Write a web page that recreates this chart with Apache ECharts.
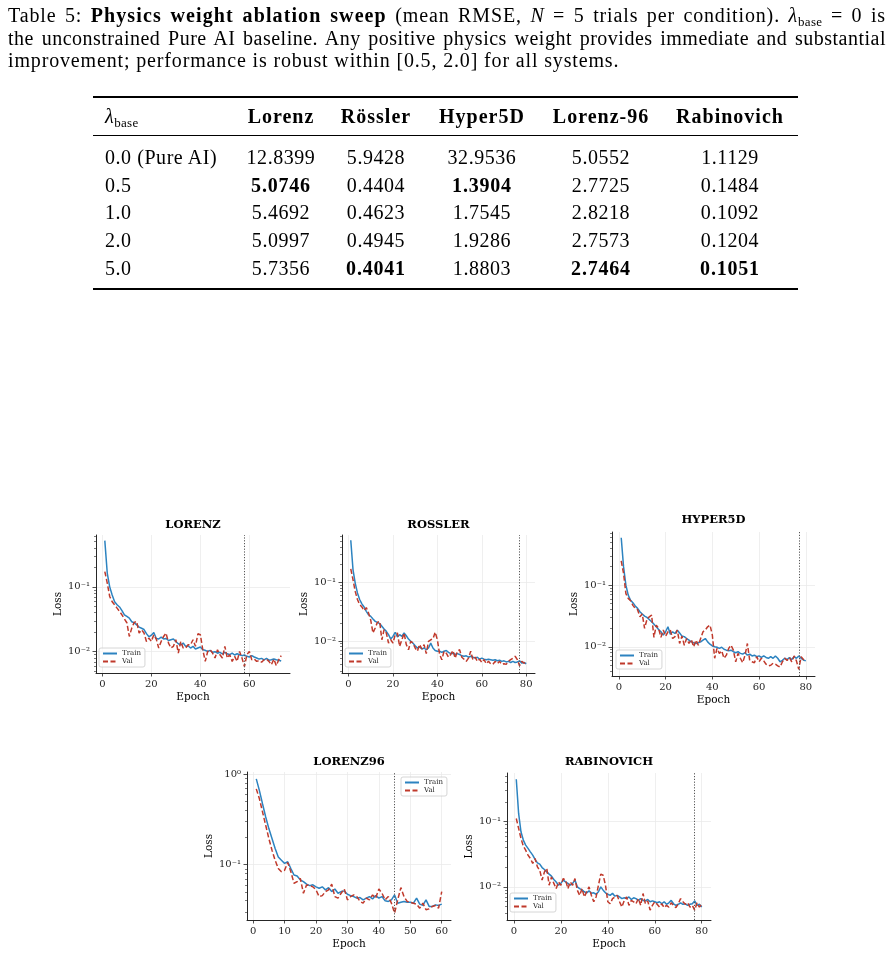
<!DOCTYPE html>
<html>
<head>
<meta charset="utf-8">
<script src="https://cdn.jsdelivr.net/npm/echarts@6/dist/echarts.min.js"></script>
<style>
  body { margin: 0; background: #fff; }
  #chart { position: absolute; left: 0; top: 0; width: 891px; height: 958px; }
  .txt { position: absolute; font-family: 'Liberation Serif', serif; color: #000; white-space: nowrap; }
  .cap { left: 8px; width: 878px; font-size: 20px; line-height: 22px; letter-spacing: 0.85px; }
  .just { white-space: normal; text-align: justify; text-align-last: justify; }
  .cap b { letter-spacing: 1.1px; }
  sub { font-size: 13px; line-height: 0; vertical-align: -4px; letter-spacing: 0.3px; }
  .rule { position: absolute; left: 93px; width: 705px; background: #000; }
  .cell { font-size: 20px; line-height: 24px; text-align: center; width: 130px; letter-spacing: 0.55px; }
  .cell b { letter-spacing: 0.8px; }
  .head b { letter-spacing: 1px; }
</style>
</head>
<body>
<div id="chart"></div>
<div class="txt cap just" style="top:4px">Table 5: <b>Physics weight ablation sweep</b> (mean RMSE, <i>N</i> = 5 trials per condition). <i>λ</i><sub>base</sub> = 0 is</div>
<div class="txt cap just" style="top:27px;letter-spacing:0.5px">the unconstrained Pure AI baseline. Any positive physics weight provides immediate and substantial</div>
<div class="txt cap" style="top:49px">improvement; performance is robust within [0.5, 2.0] for all systems.</div>
<div class="rule" style="top:96px;height:1.5px"></div>
<div class="rule" style="top:135px;height:1px"></div>
<div class="rule" style="top:288px;height:1.5px"></div>
<div id="table"></div>
<script>
// ---- table data ----
const SYSTEMS = ['Lorenz', 'Rössler', 'Hyper5D', 'Lorenz-96', 'Rabinovich'];
const LAMBDAS = ['0.0 (Pure AI)', '0.5', '1.0', '2.0', '5.0'];
const RMSE_LORENZ = [12.8399, 5.0746, 5.4692, 5.0997, 5.7356];
const RMSE_ROSSLER = [5.9428, 0.4404, 0.4623, 0.4945, 0.4041];
const RMSE_HYPER5D = [32.9536, 1.3904, 1.7545, 1.9286, 1.8803];
const RMSE_LORENZ96 = [5.0552, 2.7725, 2.8218, 2.7573, 2.7464];
const RMSE_RABINOVICH = [1.1129, 0.1484, 0.1092, 0.1204, 0.1051];

// ---- loss curves (epochs start at 1) ----
const LORENZ_TRAIN = [0.516, 0.162, 0.100, 0.075, 0.059, 0.053, 0.049, 0.043, 0.037, 0.035,
  0.033, 0.029, 0.028, 0.026, 0.024, 0.023, 0.022, 0.019, 0.017, 0.018,
  0.0198, 0.016, 0.0157, 0.0168, 0.0157, 0.016, 0.0149, 0.0153, 0.0157, 0.0144,
  0.0133, 0.0128, 0.0136, 0.0121, 0.0124, 0.0114, 0.0121, 0.011, 0.0114, 0.0118,
  0.0107, 0.0105, 0.0101, 0.0105, 0.0098, 0.0100, 0.0095, 0.0098, 0.0093, 0.0098,
  0.0093, 0.0090, 0.0095, 0.0089, 0.0093, 0.0090, 0.0087, 0.0089, 0.0085, 0.0083,
  0.0087, 0.0083, 0.0080, 0.0077, 0.0079, 0.0075, 0.0079, 0.0074, 0.0075, 0.0077,
  0.0075, 0.0074, 0.0072];
const LORENZ_VAL = [0.172, 0.114, 0.071, 0.059, 0.053, 0.047, 0.042, 0.037, 0.032, 0.028,
  0.0172, 0.0231, 0.0283, 0.0293, 0.0194, 0.0218, 0.0194, 0.0144, 0.0162, 0.0144,
  0.0183, 0.0157, 0.0114, 0.0144, 0.0172, 0.0194, 0.0136, 0.0114, 0.0121, 0.0153,
  0.0095, 0.0144, 0.0114, 0.0114, 0.0128, 0.0128, 0.0153, 0.0121, 0.0189, 0.0183,
  0.0107, 0.0071, 0.0101, 0.0107, 0.0095, 0.0080, 0.0107, 0.0090, 0.0080, 0.0121,
  0.0080, 0.0090, 0.0071, 0.0085, 0.0071, 0.0101, 0.0080, 0.0059, 0.0090, 0.0101,
  0.0075, 0.0077, 0.0071, 0.0073, 0.0069, 0.0075, 0.0077, 0.0071, 0.0063, 0.0077,
  0.0061, 0.0075, 0.0087];
const ROSSLER_TRAIN = [0.52, 0.165, 0.097, 0.066, 0.051, 0.043, 0.038, 0.032, 0.028, 0.0263,
  0.0237, 0.0216, 0.0208, 0.0198, 0.0178, 0.016, 0.0146, 0.0128, 0.0108, 0.012,
  0.0141, 0.0117, 0.0128, 0.012, 0.0137, 0.0123, 0.0108, 0.0099, 0.0092, 0.0083,
  0.0076, 0.0079, 0.0073, 0.0076, 0.0071, 0.0076, 0.0092, 0.0076, 0.0069, 0.0067,
  0.0067, 0.0064, 0.0067, 0.0069, 0.0064, 0.0061, 0.0062, 0.0059, 0.0061, 0.0059,
  0.0056, 0.0055, 0.0056, 0.0053, 0.0055, 0.0053, 0.0051, 0.0053, 0.0049, 0.0051,
  0.0049, 0.0048, 0.0049, 0.0048, 0.0047, 0.0048, 0.0046, 0.0047, 0.0045, 0.0046,
  0.0044, 0.0045, 0.0043, 0.0045, 0.0043, 0.0044, 0.0046, 0.0042, 0.0043, 0.0041];
const ROSSLER_VAL = [0.169, 0.111, 0.070, 0.051, 0.042, 0.038, 0.033, 0.037, 0.030, 0.0225,
  0.0137, 0.0167, 0.0208, 0.0216, 0.0105, 0.0156, 0.0137, 0.0092, 0.0105, 0.0092,
  0.0128, 0.0137, 0.0081, 0.0105, 0.0137, 0.0087, 0.0071, 0.0099, 0.0092, 0.0076,
  0.0067, 0.0087, 0.0073, 0.0087, 0.0061, 0.0099, 0.0105, 0.0108, 0.0141, 0.0105,
  0.0059, 0.0048, 0.0067, 0.0062, 0.0053, 0.0059, 0.0069, 0.0051, 0.0067, 0.0071,
  0.0053, 0.0049, 0.0045, 0.0051, 0.0067, 0.0048, 0.0053, 0.0045, 0.0049, 0.0043,
  0.0048, 0.0041, 0.0045, 0.0041, 0.0040, 0.0045, 0.0041, 0.0045, 0.0040, 0.0041,
  0.0040, 0.0045, 0.0048, 0.0051, 0.0055, 0.0048, 0.0038, 0.0045, 0.0042, 0.0043];
const HYPER5D_TRAIN = [0.59, 0.198, 0.100, 0.069, 0.057, 0.052, 0.046, 0.042, 0.037, 0.034,
  0.0314, 0.030, 0.0277, 0.0254, 0.0233, 0.0211, 0.0191, 0.0175, 0.0155, 0.0175,
  0.0211, 0.016, 0.0175, 0.0164, 0.0186, 0.0167, 0.0149, 0.0146, 0.0136, 0.0128,
  0.012, 0.0116, 0.0113, 0.0116, 0.012, 0.0128, 0.0136, 0.012, 0.011, 0.0103,
  0.0100, 0.0098, 0.0094, 0.0098, 0.0091, 0.0088, 0.0086, 0.0088, 0.0083, 0.0080,
  0.0083, 0.0078, 0.0076, 0.0080, 0.0073, 0.0076, 0.0071, 0.0073, 0.0069, 0.0071,
  0.0067, 0.0071, 0.0067, 0.0065, 0.0069, 0.0065, 0.0071, 0.0065, 0.0057, 0.0060,
  0.0065, 0.0062, 0.0067, 0.0062, 0.0069, 0.0065, 0.0071, 0.0065, 0.0061, 0.0059];
const HYPER5D_VAL = [0.248, 0.155, 0.073, 0.061, 0.056, 0.047, 0.042, 0.040, 0.0306, 0.034,
  0.0199, 0.0277, 0.0306, 0.0326, 0.0142, 0.0225, 0.0199, 0.0142, 0.0187, 0.0149,
  0.0175, 0.0187, 0.0136, 0.0146, 0.0187, 0.0113, 0.0149, 0.0106, 0.0136, 0.0113,
  0.0131, 0.0100, 0.0128, 0.0106, 0.0136, 0.0175, 0.0187, 0.0211, 0.0225, 0.0155,
  0.0065, 0.0094, 0.0078, 0.0086, 0.0065, 0.0073, 0.0094, 0.0106, 0.0088, 0.0057,
  0.0078, 0.0065, 0.0055, 0.0073, 0.0113, 0.0060, 0.0057, 0.0055, 0.0069, 0.0057,
  0.0065, 0.0059, 0.0052, 0.0049, 0.0050, 0.0054, 0.0052, 0.0049, 0.0047, 0.0057,
  0.0065, 0.0060, 0.0067, 0.0057, 0.0071, 0.0059, 0.0043, 0.0069, 0.0062, 0.0059];
const LORENZ96_TRAIN = [0.89, 0.66, 0.47, 0.337, 0.251, 0.195, 0.151, 0.122, 0.112, 0.1035,
  0.108, 0.091, 0.077, 0.075, 0.068, 0.065, 0.061, 0.0588, 0.060, 0.057,
  0.055, 0.057, 0.0527, 0.0558, 0.0505, 0.054, 0.0484, 0.0505, 0.0514, 0.0472,
  0.0456, 0.0445, 0.0427, 0.0434, 0.0409, 0.0427, 0.0445, 0.0419, 0.0456, 0.0427,
  0.0445, 0.0399, 0.0393, 0.0409, 0.0464, 0.0376, 0.0385, 0.0393, 0.0385, 0.0385,
  0.0376, 0.0427, 0.0367, 0.0355, 0.0409, 0.0346, 0.0346, 0.036, 0.0355, 0.0367];
const LORENZ96_VAL = [0.69, 0.536, 0.382, 0.273, 0.195, 0.145, 0.112, 0.091, 0.0838, 0.087,
  0.106, 0.0838, 0.0624, 0.065, 0.0708, 0.0484, 0.0598, 0.0588, 0.057, 0.0527,
  0.0445, 0.0456, 0.0505, 0.0527, 0.061, 0.0445, 0.0427, 0.0484, 0.054, 0.0409,
  0.0445, 0.0464, 0.0445, 0.0393, 0.0376, 0.0427, 0.0409, 0.0464, 0.0427, 0.054,
  0.0484, 0.0409, 0.0445, 0.0376, 0.0292, 0.0409, 0.0559, 0.0445, 0.0393, 0.0385,
  0.0376, 0.0367, 0.0331, 0.0376, 0.0318, 0.0325, 0.0346, 0.0355, 0.0331, 0.0505];
const RABINOVICH_TRAIN = [0.448, 0.134, 0.0702, 0.0523, 0.0438, 0.0389, 0.0345, 0.0307, 0.0264, 0.0234,
  0.0223, 0.0198, 0.0185, 0.017, 0.0157, 0.0146, 0.013, 0.0119, 0.0106, 0.0113,
  0.0127, 0.0119, 0.0113, 0.0106, 0.0113, 0.0127, 0.0100, 0.0094, 0.0090, 0.0084,
  0.0081, 0.0087, 0.0080, 0.0081, 0.0077, 0.0084, 0.0100, 0.0089, 0.0081, 0.0077,
  0.0074, 0.0080, 0.0072, 0.0074, 0.0070, 0.0066, 0.0068, 0.0066, 0.0070, 0.0064,
  0.0068, 0.0066, 0.0062, 0.0066, 0.0062, 0.0061, 0.0064, 0.0059, 0.0061, 0.0059,
  0.0057, 0.0059, 0.0055, 0.0059, 0.0054, 0.0057, 0.0062, 0.0055, 0.0052, 0.0054,
  0.0057, 0.0054, 0.0055, 0.0052, 0.0054, 0.0055, 0.0061, 0.0052, 0.0054, 0.0049];
const RABINOVICH_VAL = [0.112, 0.079, 0.0555, 0.0423, 0.0366, 0.0307, 0.0273, 0.0229, 0.0273, 0.0203,
  0.018, 0.0127, 0.017, 0.0192, 0.0106, 0.0142, 0.0113, 0.0094, 0.0119, 0.0106,
  0.0134, 0.0127, 0.0094, 0.0119, 0.0106, 0.0134, 0.0089, 0.0074, 0.0094, 0.007,
  0.0084, 0.010, 0.0074, 0.0059, 0.007, 0.0106, 0.0157, 0.0151, 0.0106, 0.0059,
  0.0055, 0.0066, 0.007, 0.0074, 0.0059, 0.0049, 0.0062, 0.007, 0.0052, 0.0062,
  0.0059, 0.0055, 0.0066, 0.0052, 0.0079, 0.0055, 0.0061, 0.0044, 0.0052, 0.0059,
  0.0054, 0.0049, 0.0055, 0.0048, 0.0052, 0.0049, 0.0057, 0.0052, 0.0048, 0.0055,
  0.0066, 0.0059, 0.0054, 0.0057, 0.0049, 0.0052, 0.0044, 0.0057, 0.0049, 0.0054];

// best-epoch markers (dotted lines)
const BEST_EPOCHS = [58, 77, 77, 45, 77];
// tick values
const X_TICKS_60 = [0, 20, 40, 60];
const X_TICKS_80 = [0, 20, 40, 60, 80];
const X_TICKS_L96 = [0, 10, 20, 30, 40, 50, 60];
const Y_TICKS_LOW = [0.01, 0.1];
const Y_TICKS_HIGH = [0.1, 1];

// ---- build the table ----
const COL_X = [281, 376, 482, 601, 730];
const ROW_Y = [157, 184.5, 212, 240, 268];
const COLS = [RMSE_LORENZ, RMSE_ROSSLER, RMSE_HYPER5D, RMSE_LORENZ96, RMSE_RABINOVICH];
const tbl = document.getElementById('table');
function addCell(html, cx, cy, left, extra) {
  const d = document.createElement('div');
  d.className = 'txt cell' + (extra ? ' ' + extra : '');
  d.style.top = (cy - 12) + 'px';
  if (left) { d.style.left = cx + 'px'; d.style.textAlign = 'left'; }
  else d.style.left = (cx - 65) + 'px';
  d.innerHTML = html;
  tbl.appendChild(d);
}
addCell('<i>λ</i><sub>base</sub>', 105, 116, true);
SYSTEMS.forEach((s, j) => addCell('<b>' + s + '</b>', COL_X[j], 116, false, 'head'));
LAMBDAS.forEach((l, i) => {
  addCell(l, 105, ROW_Y[i], true);
  COLS.forEach((col, j) => {
    const best = Math.min(...col);
    const txt = col[i].toFixed(4);
    addCell(col[i] === best ? '<b>' + txt + '</b>' : txt, COL_X[j], ROW_Y[i]);
  });
});

// ---- charts ----
const SERIF = '"DejaVu Serif", serif';
const AX = '#262626';
const GRID = '#ebebeb';
const BLUE = '#2c83c0';
const RED = '#c0392b';

const PANELS = [
  { title: 'LORENZ', train: LORENZ_TRAIN, val: LORENZ_VAL, box: [96, 535, 290, 673], titleY: 525,
    xMin: -2.6, xMax: 76.6, xTicks: X_TICKS_60, yMin: 0.0047, yMax: 0.63, yTicks: Y_TICKS_LOW, legend: [99, 648] },
  { title: 'ROSSLER', train: ROSSLER_TRAIN, val: ROSSLER_VAL, box: [342, 535, 535, 673], titleY: 525,
    xMin: -2.95, xMax: 83.95, xTicks: X_TICKS_80, yMin: 0.00285, yMax: 0.64, yTicks: Y_TICKS_LOW, legend: [345, 648] },
  { title: 'HYPER5D', train: HYPER5D_TRAIN, val: HYPER5D_VAL, box: [612, 532, 815, 676], titleY: 520,
    xMin: -2.95, xMax: 83.95, xTicks: X_TICKS_80, yMin: 0.00335, yMax: 0.73, yTicks: Y_TICKS_LOW, legend: [616, 650] },
  { title: 'LORENZ96', train: LORENZ96_TRAIN, val: LORENZ96_VAL, box: [247, 772, 451, 920], titleY: 762,
    xMin: -1.95, xMax: 62.95, xTicks: X_TICKS_L96, yMin: 0.0245, yMax: 1.06, yTicks: Y_TICKS_HIGH, legend: [401, 777] },
  { title: 'RABINOVICH', train: RABINOVICH_TRAIN, val: RABINOVICH_VAL, box: [507, 773, 711, 920], titleY: 762,
    xMin: -2.95, xMax: 83.95, xTicks: X_TICKS_80, yMin: 0.0031, yMax: 0.56, yTicks: Y_TICKS_LOW, legend: [510, 893] }
];

const SUP = { '-': '⁻', '0': '⁰', '1': '¹', '2': '²', '3': '³' };
function sciLabel(v) {
  const e = Math.round(Math.log10(v));
  return '10' + String(e).split('').map(c => SUP[c]).join('');
}
function minorTicks(lo, hi) {
  const out = [];
  for (let n = -4; n <= 0; n++) {
    for (let k = 2; k <= 9; k++) {
      const v = k * Math.pow(10, n);
      if (v >= lo && v <= hi) out.push(v);
    }
  }
  return out;
}

const grids = [], xAxes = [], yAxes = [], series = [], legends = [], graphics = [];
const labelFont = { fontFamily: SERIF, fontSize: 10, color: AX };
const nameFont = { fontFamily: SERIF, fontSize: 10.5, color: '#000' };

PANELS.forEach((p, i) => {
  const [x0, y0, x1, y1] = p.box;
  grids.push({ left: x0, top: y0, width: x1 - x0, height: y1 - y0 });
  xAxes.push({
    type: 'value', gridIndex: i, min: p.xMin, max: p.xMax,
    name: 'Epoch', nameLocation: 'middle', nameGap: 19, nameTextStyle: nameFont,
    axisLine: { onZero: false, lineStyle: { color: AX, width: 1 } },
    axisTick: { length: 3.5, customValues: p.xTicks, lineStyle: { color: AX, width: 0.8 } },
    axisLabel: Object.assign({ customValues: p.xTicks, margin: 6 }, labelFont),
    splitLine: { show: true, lineStyle: { color: GRID, width: 0.8 } }
  });
  yAxes.push({
    type: 'log', logBase: 10, gridIndex: i, min: p.yMin, max: p.yMax, position: 'left',
    name: 'Loss', nameLocation: 'middle', nameGap: 31, nameTextStyle: nameFont,
    axisLine: { show: true, onZero: false, lineStyle: { color: AX, width: 1 } },
    axisTick: { length: 3.5, customValues: p.yTicks, lineStyle: { color: AX, width: 0.8 } },
    axisLabel: Object.assign({ customValues: p.yTicks, formatter: sciLabel, margin: 6 }, labelFont),
    splitLine: { show: true, lineStyle: { color: GRID, width: 0.8 } }
  });
  yAxes.push({
    type: 'log', logBase: 10, gridIndex: i, min: p.yMin, max: p.yMax, position: 'left',
    axisLine: { show: false, onZero: false }, axisLabel: { show: false }, splitLine: { show: false },
    axisTick: { length: 2, customValues: minorTicks(p.yMin, p.yMax), lineStyle: { color: AX, width: 0.6 } }
  });
  series.push({
    name: 'Train', type: 'line', xAxisIndex: i, yAxisIndex: 2 * i,
    data: p.train.map((v, k) => [k + 1, v]),
    symbol: 'none', lineStyle: { color: BLUE, width: 1.5 }, itemStyle: { color: BLUE },
    markLine: {
      silent: true, symbol: ['none', 'none'], label: { show: false },
      lineStyle: { color: '#555', width: 1, type: [1.2, 1.6] },
      data: [{ xAxis: BEST_EPOCHS[i] }]
    }
  });
  series.push({
    name: 'Val', type: 'line', xAxisIndex: i, yAxisIndex: 2 * i,
    data: p.val.map((v, k) => [k + 1, v]),
    symbol: 'none', lineStyle: { color: RED, width: 1.5, type: [5, 2.5] }, itemStyle: { color: RED }
  });
  legends.push({
    data: ['Train', 'Val'], orient: 'vertical', left: p.legend[0], top: p.legend[1],
    padding: [2, 4, 2, 3], itemGap: 1, itemWidth: 14, itemHeight: 8,
    itemStyle: { opacity: 0 },
    textStyle: { fontFamily: SERIF, fontSize: 7, color: '#222' },
    borderColor: '#cccccc', borderWidth: 0.8, borderRadius: 2, backgroundColor: 'rgba(255,255,255,0.8)',
    selectedMode: false
  });
  graphics.push({
    type: 'text', x: (x0 + x1) / 2, y: p.titleY,
    style: { text: p.title, font: 'bold 11.5px "DejaVu Serif"', fill: '#000', textAlign: 'center', textVerticalAlign: 'middle' }
  });
});

const chart = echarts.init(document.getElementById('chart'));
chart.setOption({
  animation: false,
  grid: grids, xAxis: xAxes, yAxis: yAxes, series: series, legend: legends, graphic: graphics
});
</script>
</body>
</html>
